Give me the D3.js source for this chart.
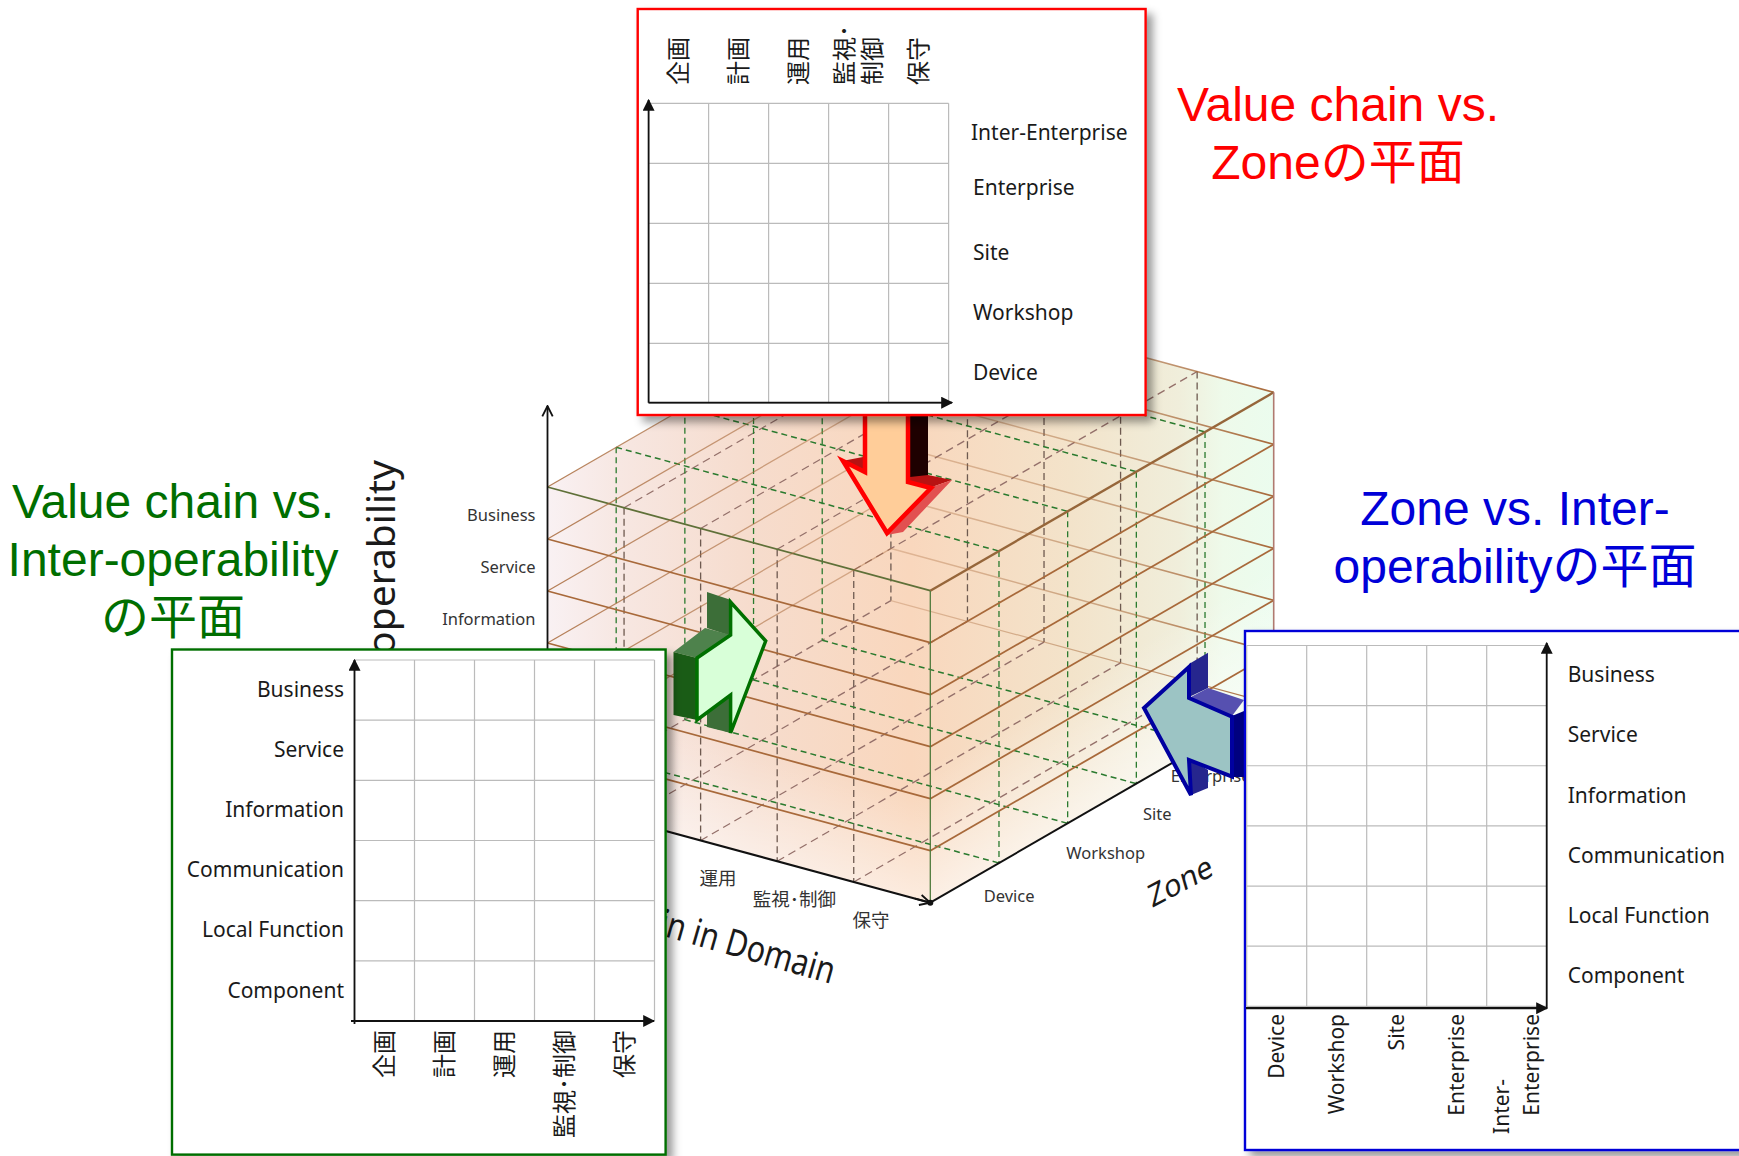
<!DOCTYPE html>
<html>
<head>
<meta charset="utf-8">
<script src="https://cdn.jsdelivr.net/npm/d3@7"></script>
<style>
  html, body { margin: 0; padding: 0; background: #fff; }
  svg { display: block; }
  text { font-family: "Noto Sans", "Noto Sans CJK JP", sans-serif; fill: #1a1a1a; }
  .title text, text.title { font-family: "Liberation Sans", "Noto Sans CJK JP", sans-serif; font-size: 48px; text-anchor: middle; }
</style>
</head>
<body>
<script>
// categories of the three axes
var valueChain = ["企画", "計画", "運用", "監視･制御", "保守"];
var zones = ["Device", "Workshop", "Site", "Enterprise", "Inter-Enterprise"];
var layers = ["Business", "Service", "Information", "Communication", "Local Function", "Component"];

// labels that break over two lines in a panel
var wrapped = { "監視･制御": ["監視･", "制御"], "Inter-Enterprise": ["Inter-", "Enterprise"] };

var redTitle = ["Value chain vs.", "Zoneの平面"];
var greenTitle = ["Value chain vs.", "Inter-operability", "の平面"];
var blueTitle = ["Zone vs. Inter-", "operabilityの平面"];

var width = 1739, height = 1156;
var svg = d3.select("body").append("svg").attr("width", width).attr("height", height);
var defs = svg.append("defs");

function gradient(id, x1, y1, x2, y2, stops) {
  var g = defs.append("linearGradient").attr("id", id).attr("gradientUnits", "userSpaceOnUse")
    .attr("x1", x1).attr("y1", y1).attr("x2", x2).attr("y2", y2);
  stops.forEach(function (s) {
    g.append("stop").attr("offset", s[0]).attr("stop-color", s[1]).attr("stop-opacity", s[2] === undefined ? 1 : s[2]);
  });
}

var shadow = defs.append("filter").attr("id", "shadow").attr("x", "-5%").attr("y", "-5%").attr("width", "112%").attr("height", "112%");
shadow.append("feDropShadow").attr("dx", 6).attr("dy", 6).attr("stdDeviation", 4).attr("flood-color", "#000").attr("flood-opacity", 0.4);

defs.append("marker").attr("id", "head").attr("viewBox", "0 0 10 10").attr("refX", 9).attr("refY", 5)
  .attr("markerUnits", "userSpaceOnUse").attr("markerWidth", 12).attr("markerHeight", 12).attr("orient", "auto")
  .append("path").attr("d", "M0,0L10,5L0,10Z").attr("fill", "#111");
defs.append("marker").attr("id", "open").attr("viewBox", "0 0 10 10").attr("refX", 9).attr("refY", 5)
  .attr("markerUnits", "userSpaceOnUse").attr("markerWidth", 13).attr("markerHeight", 13).attr("orient", "auto")
  .append("path").attr("d", "M1,1L9,5L1,9").attr("fill", "none").attr("stroke", "#111").attr("stroke-width", 1.4);

// ---- the cube: value chain runs along u, zone along v, layers down w
var originX = 547.5, originY = 487;
var uX = d3.scaleLinear().domain([0, valueChain.length]).range([0, 382.8]);
var uY = d3.scaleLinear().domain([0, valueChain.length]).range([0, 103.7]);
var vX = d3.scaleLinear().domain([0, zones.length]).range([0, 343.4]);
var vY = d3.scaleLinear().domain([0, zones.length]).range([0, -198.4]);
var wY = d3.scaleLinear().domain([0, layers.length]).range([0, 312]);
var nU = valueChain.length, nV = zones.length, nW = layers.length;

function pt(u, v, w) {
  return [originX + uX(u) + vX(v), originY + uY(u) + vY(v) + wY(w)];
}
var lineGen = d3.line();
var cube = svg.append("g").attr("class", "cube");

function seg(a, b, stroke, w, dash) {
  cube.append("path").attr("d", lineGen([a, b])).attr("fill", "none").attr("stroke", stroke)
    .attr("stroke-width", w).attr("stroke-dasharray", dash || null);
}

var Lt = pt(0, 0, 0), Ft = pt(nU, 0, 0), Rt = pt(nU, nV, 0), Bt = pt(0, nV, 0);
var Lb = pt(0, 0, nW), Fb = pt(nU, 0, nW), Rb = pt(nU, nV, nW), Bb = pt(0, nV, nW);

gradient("body", Lt[0], 0, Rt[0], 0, [
  [0, "#f9f1f3"], [0.1, "#f7e7e2"], [0.28, "#f6dccd"], [0.5, "#f9d7bd"], [0.72, "#f3e3ca"], [0.87, "#f0eedb"], [0.93, "#eefaea"], [1, "#ebfcee"]
]);
cube.append("polygon").attr("points", [Lt, Bt, Rt, Rb, Fb, Lb].join(" ")).attr("fill", "url(#body)");

// faces get paler towards the floor
gradient("fadeR", Fb[0] - 60, Fb[1] - 104, Fb[0], Fb[1], [[0, "#fff", 0], [1, "#fff", 0.6]]);
gradient("fadeL", Fb[0] + 27, Fb[1] - 100, Fb[0], Fb[1], [[0, "#fff", 0], [1, "#fff", 0.5]]);
cube.append("polygon").attr("points", [Ft, Rt, Rb, Fb].join(" ")).attr("fill", "url(#fadeR)");
cube.append("polygon").attr("points", [Lt, Ft, Fb, Lb].join(" ")).attr("fill", "url(#fadeL)");

var brown = "#a8693a", dashBrown = "#6e5a50", dashPale = "#94706a", dashGreen = "#2a7a2e";
gradient("paleL", Bt[0], 0, Lt[0], 0, [[0, brown, 0.4], [1, brown, 0.85]]);
gradient("paleR", Bt[0], 0, Rt[0], 0, [[0, brown, 0.3], [0.6, brown, 0.55], [1, brown, 1]]);

// dashed planes through the cube
d3.range(0, nU).forEach(function (u) {
  seg(pt(u, nV, 0), pt(u, nV, nW), dashBrown, 1.3, "7 4");
  if (u > 0) {
    seg(pt(u, 0, 0), pt(u, 0, nW), dashBrown, 1.3, "7 4");
    seg(pt(u, 0, 0), pt(u, nV, 0), dashPale, 1.3, "8 5");
  }
  seg(pt(u, 0, nW), pt(u, nV, nW), dashPale, 1.3, "8 5");
});
d3.range(1, nV).forEach(function (v) {
  seg(pt(0, v, 0), pt(0, v, nW), dashGreen, 1.3, "6 4");
  seg(pt(nU, v, 0), pt(nU, v, nW), dashGreen, 1.3, "6 4");
  seg(pt(0, v, 0), pt(nU, v, 0), dashGreen, 1.5, "6 4");
  seg(pt(0, v, nW), pt(nU, v, nW), dashGreen, 1.5, "6 4");
});

// solid outline of each layer plane
d3.range(0, nW).forEach(function (w) {
  seg(pt(0, nV, w), pt(0, 0, w), "url(#paleL)", 1.3);
  seg(pt(0, nV, w), pt(nU, nV, w), "url(#paleR)", 1.6);
  seg(pt(0, 0, w), pt(nU, 0, w), w === 0 ? "#5f7038" : brown, 1.8);
  seg(pt(nU, 0, w), pt(nU, nV, w), w === 0 ? "#96663a" : brown, w === 0 ? 2.4 : 1.8);
});
seg(Bb, Rb, "url(#paleR)", 1.2);

// edges and axes
seg(Ft, Fb, "#4f7a3c", 1.3);
seg(Rt, Rb, "#b07a70", 1.6);
seg(Lb, Fb, "#111", 2);
seg(Rb, Fb, "#111", 2);
cube.append("path").attr("d", lineGen([Lb, [Lt[0], 406]])).attr("fill", "none").attr("stroke", "#111")
  .attr("stroke-width", 1.8).attr("marker-end", "url(#open)");
cube.append("path").attr("d", lineGen([pt(nU - 0.2, 0, nW), Fb])).attr("fill", "none").attr("stroke", "#111")
  .attr("stroke-width", 1.8).attr("marker-end", "url(#open)");
cube.append("circle").attr("cx", Fb[0]).attr("cy", Fb[1]).attr("r", 3).attr("fill", "#111");

// labels printed around the cube
cube.selectAll("text.layer").data(layers).enter().append("text").attr("class", "layer")
  .attr("x", Lt[0] - 12).attr("y", function (d, i) { return pt(0, 0, i + 0.5)[1] + 2; })
  .attr("dy", ".35em").attr("text-anchor", "end").style("font-size", "16.5px").style("fill", "#333").text(function (d) { return d; });
cube.selectAll("text.chain").data(valueChain).enter().append("text").attr("class", "chain")
  .attr("x", function (d, i) { return pt(i + 0.5, 0, nW)[0] - 21; })
  .attr("y", function (d, i) { return pt(i + 0.5, 0, nW)[1] + 28; })
  .attr("dy", ".35em").attr("text-anchor", "middle").style("font-size", "18.5px").style("fill", "#333").text(function (d) { return d; });
var zoneLeft = [19, 33, 41, 0, 0], zoneDown = [13, 10, 11, 12, 12];
cube.selectAll("text.zone").data(zones.slice(0, 4)).enter().append("text").attr("class", "zone")
  .attr("x", function (d, i) { return pt(nU, i + 0.5, nW)[0] + zoneLeft[i]; })
  .attr("y", function (d, i) { return pt(nU, i + 0.5, nW)[1] + zoneDown[i]; })
  .attr("dy", ".35em").style("font-size", "16.5px").style("fill", "#333").text(function (d) { return d; });

svg.append("text").attr("transform", "translate(395,460) rotate(-90)").attr("text-anchor", "end")
  .style("font-size", "39px").text("Inter-operability");
svg.append("text").attr("transform", "translate(831,984) rotate(16) scale(0.82,1)").attr("text-anchor", "end")
  .style("font-size", "37px").text("Value chain in Domain");
svg.append("text").attr("transform", "translate(1152,908) rotate(-28) skewX(-12)")
  .style("font-size", "30px").text("Zone");

// ---- block arrows: back faces first, outlined front face on top
function poly(g, pts, fill, stroke, sw, opacity) {
  g.append("polygon").attr("points", pts.join(" ")).attr("fill", fill).attr("stroke", stroke || "none")
    .attr("stroke-width", sw || 0).attr("stroke-linejoin", "miter").attr("opacity", opacity === undefined ? 1 : opacity);
}

var redArrow = svg.append("g");
poly(redArrow, [[908, 400], [928, 400], [928, 476], [908, 482]], "#1e0000");
poly(redArrow, [[908, 482], [910, 477], [928, 475], [952, 480], [932, 487]], "#b81212");
poly(redArrow, [[842, 461], [863, 457], [865, 472]], "#b81212");
poly(redArrow, [[932, 487], [952, 480], [903, 532], [887, 535]], "#e25050");
poly(redArrow, [[865, 400], [908, 400], [908, 482], [931, 488], [887, 533], [843, 461], [865, 472]], "#ffcd99", "#ff0000", 4.5);

var greenArrow = svg.append("g");
poly(greenArrow, [[707, 592], [731, 600], [731, 636], [707, 628]], "#3c6e38");
poly(greenArrow, [[707, 704], [731, 696], [731, 733], [707, 727]], "#3c6e38");
poly(greenArrow, [[673.5, 652], [705, 628], [731, 635], [697, 658]], "#4e824c");
poly(greenArrow, [[673.5, 652], [697, 658], [697, 720], [673.5, 715]], "#1a5c16");
poly(greenArrow, [[697, 658], [730.6, 635], [730.6, 602], [765.7, 641], [730.6, 733], [730.6, 695], [697, 720]], "#d8ffd8", "#007000", 3.5);

var blueArrow = svg.append("g");
poly(blueArrow, [[1189, 664], [1208, 652.7], [1208, 688], [1189, 697]], "#26268e");
poly(blueArrow, [[1189, 758], [1208, 770], [1208, 788], [1191, 795]], "#26268e");
poly(blueArrow, [[1189, 698], [1208, 688], [1244, 700], [1232, 716]], "#5650b0");
poly(blueArrow, [[1232, 716], [1244, 711], [1244, 777], [1232, 777]], "#00007f");
poly(blueArrow, [[1144, 708], [1189, 667], [1189, 698], [1232, 716.7], [1232, 776.7], [1189, 760], [1191, 795]], "#9cc4c4", "#0000a0", 4);

// ---- the three projection panels
function box(x0, y0, x1, y1, color, sw) {
  var g = svg.append("g");
  g.append("rect").attr("x", x0).attr("y", y0).attr("width", x1 - x0).attr("height", y1 - y0)
    .attr("fill", "#fff").attr("stroke", color).attr("stroke-width", sw).attr("filter", "url(#shadow)");
  return g;
}

function grid(g, x, y) {
  var xs = x.domain().map(function (d) { return x(d); }).concat(x.range()[1]);
  var ys = y.domain().map(function (d) { return y(d); }).concat(y.range()[1]);
  g.selectAll("line.gx").data(xs).enter().append("line").attr("class", "gx")
    .attr("x1", function (d) { return d; }).attr("x2", function (d) { return d; })
    .attr("y1", y.range()[0]).attr("y2", y.range()[1]).attr("stroke", "#bbb").attr("stroke-width", 1.2);
  g.selectAll("line.gy").data(ys).enter().append("line").attr("class", "gy")
    .attr("y1", function (d) { return d; }).attr("y2", function (d) { return d; })
    .attr("x1", x.range()[0]).attr("x2", x.range()[1]).attr("stroke", "#bbb").attr("stroke-width", 1.2);
}

function arrowLine(g, a, b, sw) {
  g.append("path").attr("d", lineGen([a, b])).attr("fill", "none").attr("stroke", "#111")
    .attr("stroke-width", sw || 1.8).attr("marker-end", "url(#head)");
}

// category labels set sideways, reading upward; shift moves a line along the text
function sideways(axisG, anchor, fontSize, gap, useWrap, shift) {
  axisG.select(".domain").remove();
  axisG.selectAll(".tick line").remove();
  axisG.selectAll(".tick text").each(function (d) {
    var t = d3.select(this).text("").attr("transform", "rotate(-90)").attr("x", 0).attr("y", 0).attr("dy", null)
      .attr("text-anchor", anchor).style("font-size", fontSize + "px");
    var lines = (useWrap && wrapped[d]) || [d];
    lines.forEach(function (s, i) {
      t.append("tspan").attr("x", lines.length > 1 && i === 0 ? (shift || 0) : 0)
        .attr("y", (i - (lines.length - 1) / 2) * gap).attr("dy", ".35em").text(s);
    });
  });
}

function flatLabels(axisG, fontSize, anchor) {
  axisG.select(".domain").remove();
  axisG.selectAll(".tick line").remove();
  axisG.selectAll(".tick text").attr("text-anchor", anchor).style("font-size", fontSize + "px");
}

// red: value chain vs zone, seen from above
var redG = box(637.7, 9, 1145.6, 415, "#ff0000", 2.4);
var redX = d3.scaleBand().domain(valueChain).range([648.6, 948.6]);
var redY = d3.scaleBand().domain(zones.slice().reverse()).range([103.3, 403.3]);
grid(redG, redX, redY);
arrowLine(redG, [redX.range()[0], 402.7], [redX.range()[0], 100]);
arrowLine(redG, [redX.range()[0], 402.7], [952, 402.7]);
var redTop = redG.append("g").attr("transform", "translate(0,85)").call(d3.axisTop(redX).tickSize(0));
sideways(redTop, "start", 24, 28, true);
var redRight = redG.append("g").attr("transform", "translate(973,0)").call(d3.axisRight(redY).tickSize(0).tickPadding(0));
flatLabels(redRight, 21, "start");
redRight.selectAll(".tick text").filter(function (d) { return d === "Inter-Enterprise"; }).attr("x", -2);
redRight.selectAll(".tick text").filter(function (d) { return d === "Enterprise"; }).attr("y", -5.5);

// green: value chain vs inter-operability
var greenG = box(172, 649.5, 665.6, 1154.6, "#006e00", 2.4);
var greenX = d3.scaleBand().domain(valueChain).range([354.5, 654.5]);
var greenY = d3.scaleBand().domain(layers).range([660, 1021]);
grid(greenG, greenX, greenY);
arrowLine(greenG, [354.5, 1024], [354.5, 660]);
arrowLine(greenG, [351, 1021], [654, 1021]);
var greenBottom = greenG.append("g").attr("transform", "translate(0,1030)").call(d3.axisBottom(greenX).tickSize(0));
sideways(greenBottom, "end", 24, 28, false);
var greenLeft = greenG.append("g").attr("transform", "translate(344,0)").call(d3.axisLeft(greenY).tickSize(0).tickPadding(0));
flatLabels(greenLeft, 21, "end");

// blue: zone vs inter-operability, runs off the right edge
var blueG = box(1245, 631, 1760, 1150, "#0000d8", 2.4);
var blueX = d3.scaleBand().domain(zones).range([1246.7, 1546.7]);
var blueY = d3.scaleBand().domain(layers).range([645.5, 1006.3]);
grid(blueG, blueX, blueY);
arrowLine(blueG, [1546.7, 1008.2], [1546.7, 643]);
arrowLine(blueG, [1246, 1008.2], [1547, 1008.2], 2.2);
var blueBottom = blueG.append("g").attr("transform", "translate(0,1014)").call(d3.axisBottom(blueX).tickSize(0));
sideways(blueBottom, "end", 21, 30, true, -65);
var blueRight = blueG.append("g").attr("transform", "translate(1567.7,0)").call(d3.axisRight(blueY).tickSize(0).tickPadding(0));
flatLabels(blueRight, 21, "start");

// ---- coloured captions
function caption(lines, cx, firstBaseline, gap, color) {
  svg.append("g").attr("class", "title").selectAll("text").data(lines).enter().append("text")
    .attr("x", cx).attr("y", function (d, i) { return firstBaseline + i * gap; })
    .style("fill", color).text(function (d) { return d; });
}
caption(redTitle, 1338, 121, 58, "#ff0000");
caption(greenTitle, 173, 518, 58, "#006e00");
caption(blueTitle, 1515, 525, 58, "#0000d8");
</script>
</body>
</html>
